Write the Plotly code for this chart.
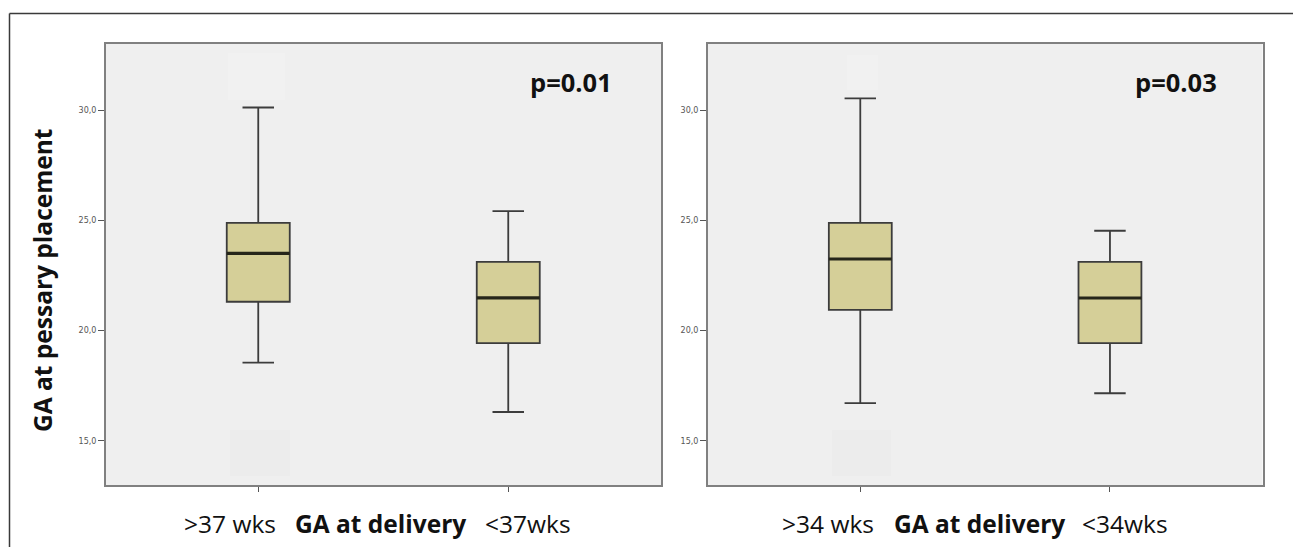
import plotly.graph_objects as go

W, H = 1293, 547

# ---- data ----
left_groups = [">37 wks", "<37wks"]
left_upper = [30.12, 25.42]
left_q3 = [24.89, 23.12]
left_median = [23.5, 21.49]
left_q1 = [21.31, 19.43]
left_lower = [18.55, 16.31]

right_groups = [">34 wks", "<34wks"]
right_upper = [30.53, 24.53]
right_q3 = [24.89, 23.12]
right_median = [23.25, 21.48]
right_q1 = [20.94, 19.43]
right_lower = [16.71, 17.16]

p_values = ["p=0.01", "p=0.03"]
y_ticks = [15, 20, 25, 30]
y_ticktext = ["15,0", "20,0", "25,0", "30,0"]
x_title = "GA at delivery"
y_title = "GA at pessary placement"

BOX_W = 0.252
FILL = "#d5cf98"
BG = "#efefef"
FONT = "Open Sans"

def px_x(p):
    return p / W

def px_y(p):
    return 1 - p / H

fig = go.Figure()

panels = [
    (left_groups, left_upper, left_q3, left_median, left_q1, left_lower, "x", "y"),
    (right_groups, right_upper, right_q3, right_median, right_q1, right_lower, "x2", "y2"),
]
for groups, up, q3, med, q1, lo, xa, ya in panels:
    pos = list(range(len(groups)))
    fig.add_trace(go.Box(
        x=pos, q1=q1, median=med, q3=q3, lowerfence=lo, upperfence=up,
        width=BOX_W, whiskerwidth=0.5, fillcolor=FILL,
        line=dict(color="#3c3c3c", width=1.8), boxpoints=False,
        xaxis=xa, yaxis=ya, showlegend=False, hoverinfo="skip",
    ))
    for i, m in enumerate(med):
        fig.add_trace(go.Scatter(
            x=[i - BOX_W / 2, i + BOX_W / 2], y=[m, m], mode="lines",
            line=dict(color="#26261a", width=3.2), xaxis=xa, yaxis=ya,
            showlegend=False, hoverinfo="skip",
        ))

xdoms = [[px_x(106), px_x(661)], [px_x(708), px_x(1262.5)]]
ydom = [px_y(485), px_y(44)]

axis_common = dict(showline=True, mirror=True, linecolor="#808080", linewidth=2,
                   showgrid=False, zeroline=False, ticks="outside",
                   tickcolor="#555", tickwidth=1)

fig.update_layout(
    width=W, height=H, margin=dict(l=0, r=0, t=0, b=0),
    paper_bgcolor="white", plot_bgcolor=BG,
    xaxis=dict(domain=xdoms[0], range=[-0.609, 1.611], tickvals=[0, 1],
               showticklabels=False, anchor="y", ticklen=5, **axis_common),
    xaxis2=dict(domain=xdoms[1], range=[-0.61, 1.611], tickvals=[0, 1],
                showticklabels=False, anchor="y2", ticklen=5, **axis_common),
    yaxis=dict(domain=ydom, range=[13.0, 33.0], tickvals=y_ticks, ticktext=y_ticktext,
               ticklen=6, tickfont=dict(family="DejaVu Sans", size=8, color="#555"),
               anchor="x", **axis_common),
    yaxis2=dict(domain=ydom, range=[13.0, 33.0], tickvals=y_ticks, ticktext=y_ticktext,
                ticklen=6, tickfont=dict(family="DejaVu Sans", size=8, color="#555"),
                anchor="x2", **axis_common),
)

shapes = []
# faint masked squares
for (x0, x1, y0, y1, c) in [
    (228, 285, 53, 100, "#f1f1f1"), (230, 290, 430, 476, "#ececec"),
    (847, 878, 55, 90, "#f1f1f1"), (832, 891, 430, 476, "#ececec"),
]:
    shapes.append(dict(type="rect", xref="paper", yref="paper", layer="below",
                       x0=px_x(x0), x1=px_x(x1), y0=px_y(y1), y1=px_y(y0),
                       fillcolor=c, line=dict(width=0)))
# outer frame
shapes.append(dict(type="line", xref="paper", yref="paper",
                   x0=px_x(9.5), x1=1, y0=px_y(13.5), y1=px_y(13.5),
                   line=dict(color="#3a3a3a", width=1.5)))
shapes.append(dict(type="line", xref="paper", yref="paper",
                   x0=px_x(9.5), x1=px_x(9.5), y0=0, y1=px_y(13.5),
                   line=dict(color="#3a3a3a", width=1.5)))
fig.update_layout(shapes=shapes)

ann = []
# p-values
for txt, cx in zip(p_values, [571, 1175.5]):
    ann.append(dict(text="<b>%s</b>" % txt, xref="paper", yref="paper",
                    x=px_x(cx), y=px_y(82), xanchor="center", yanchor="middle",
                    showarrow=False, font=dict(family=FONT, size=25.5, color="#111")))
# y title
ann.append(dict(text="<b>%s</b>" % y_title, xref="paper", yref="paper",
                x=px_x(42), y=px_y(280), xanchor="center", yanchor="middle",
                textangle=-90, showarrow=False,
                font=dict(family=FONT, size=24.5, color="#111")))
# x labels
for groups, centers in [(left_groups, [229.5, 380.5, 527.5]),
                        (right_groups, [828.5, 979, 1125])]:
    parts = [groups[0].replace("<", "&lt;").replace(">", "&gt;"),
             "<b>%s</b>" % x_title,
             groups[1].replace("<", "&lt;").replace(">", "&gt;")]
    for t, cx in zip(parts, centers):
        ann.append(dict(text=t, xref="paper", yref="paper", x=px_x(cx), y=px_y(523),
                        xanchor="center", yanchor="middle", showarrow=False,
                        font=dict(family=FONT, size=24.5, color="#111")))
fig.update_layout(annotations=ann)

fig.write_html("out.html", config={"displayModeBar": False},
               post_script="document.body.style.margin='0';")
